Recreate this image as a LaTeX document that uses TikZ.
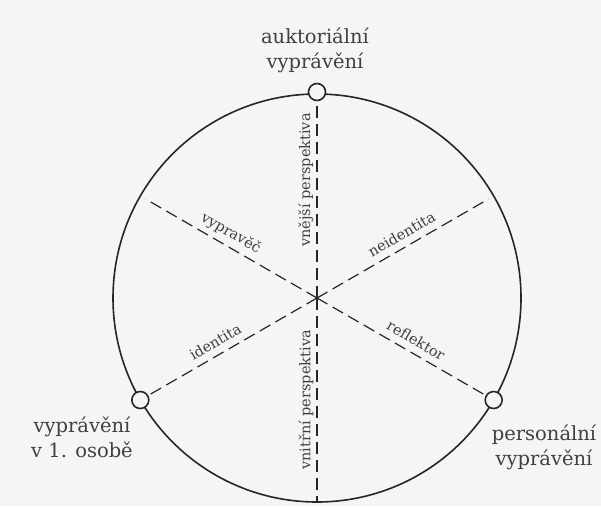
\documentclass[tikz,border=0pt]{standalone}
\usepackage{fontspec}
\setmainfont{DejaVu Serif}
\usetikzlibrary{calc}
\begin{document}
\begin{tikzpicture}[x=1pt,y=-1pt,
  outer/.style={font=\fontsize{19.5}{25}\selectfont, text=black!75, align=center, inner sep=0pt},
  inner/.style={font=\fontsize{14.5}{16}\selectfont, text=black!75, inner sep=0pt},
  dline/.style={line width=1.2pt, draw=black!85, dash pattern=on 12pt off 6pt},
  ring/.style={circle, draw=black!85, line width=1.6pt, fill=black!4, minimum size=17pt, inner sep=0pt}
]
\useasboundingbox[fill=black!4] (0,0) rectangle (601,506);
\coordinate (c) at (317,298);
\draw[line width=1.6pt, draw=black!85] (c) circle[radius=204pt];
\coordinate (bot) at ($(c)+(0,204)$);
\path (c) ++(0,-206) coordinate (topp);
\path (c) ++(150:198pt) coordinate (tl);
\path (c) ++(30:198pt) coordinate (tr);
\path (c) ++(210:204pt) coordinate (lp);
\path (c) ++(-30:204pt) coordinate (rp);
\draw[dline] (c) -- (topp);
\draw[dline] (c) -- (bot);
\draw[dline] (c) -- (lp);
\draw[dline] (c) -- (tr);
\draw[dline] (c) -- (rp);
\draw[dline] (c) -- (tl);
\node[ring] (top) at (topp) {};
\node[ring] (left) at (lp) {};
\node[ring] (right) at (rp) {};
\node[outer] (auk) at (315,50) {auktoriální\\vyprávění};
\node[outer] (ich) at (82,437) {vyprávění\\v 1. osobě};
\node[outer] (pers) at (544,447) {personální\\vyprávění};
\node[inner, rotate=90] (vne) at ($(c)+(90:118pt)+(180:11pt)$) {vnější perspektiva};
\node[inner, rotate=90] (vni) at ($(c)+(270:102pt)+(180:11pt)$) {vnitřní perspektiva};
\node[inner, rotate=-30] (vyp) at ($(c)+(150:107pt)+(60:13pt)$) {vypravěč};
\node[inner, rotate=30] (neid) at ($(c)+(30:105pt)+(120:13pt)$) {neidentita};
\node[inner, rotate=30] (id) at ($(c)+(210:110pt)+(120:13pt)$) {identita};
\node[inner, rotate=-30] (refl) at ($(c)+(-30:107pt)+(60:13pt)$) {reflektor};
\end{tikzpicture}
\end{document}
